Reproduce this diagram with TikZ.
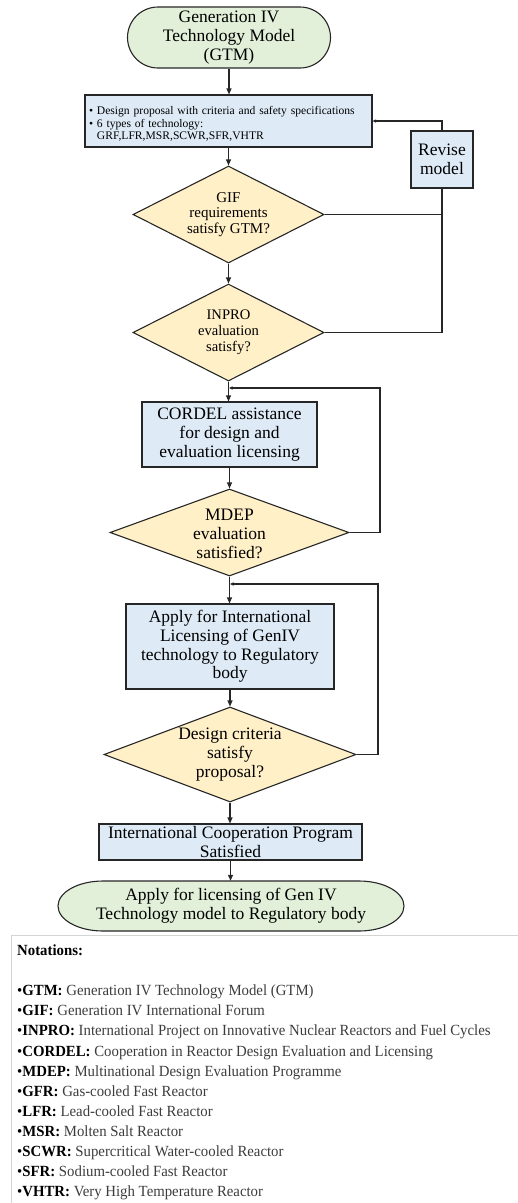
\documentclass[tikz,border=0pt]{standalone}
\usepackage{fontspec}
\setmainfont{Liberation Serif}
\newfontfamily\notefont[FakeStretch=0.955]{Liberation Serif}
\usetikzlibrary{shapes.geometric,arrows.meta}
\definecolor{gfill}{HTML}{E2F0D9}
\definecolor{bfill}{HTML}{DEEBF7}
\definecolor{yfill}{HTML}{FFF0C8}
\definecolor{lc}{HTML}{262626}
\definecolor{ngray}{HTML}{D4D4D4}
\definecolor{ntext}{HTML}{3C3C3C}
\begin{document}
\begin{tikzpicture}[x=1pt,y=-1pt,
  line/.style={draw=lc, line width=1.1pt},
  arr/.style={line, -{Triangle[length=6pt,width=5pt]}},
  sarr/.style={line, -{Triangle[length=3.5pt,width=3pt]}},
  mainfont/.style={font=\fontsize{17.5}{18.7}\selectfont},
  procbox/.style={rectangle, draw=lc, line width=1.1pt, fill=bfill, inner sep=1pt, align=center, mainfont},
  term/.style={rectangle, draw=lc, line width=1.1pt, fill=gfill, inner sep=1pt, align=center, mainfont},
  decision/.style={diamond, draw=lc, line width=1.1pt, fill=yfill, inner sep=0pt},
  dlab/.style={align=center, inner sep=0pt},
  note/.style={anchor=base west, inner sep=0pt, text=ntext, font=\notefont\fontsize{15.5}{18}\selectfont},
]
\useasboundingbox (0,0) rectangle (518,1203);

% start terminal
\node[term, minimum width=203pt, minimum height=61pt, rounded corners=30.5pt] (start) at (229,37.5) {Generation IV\\Technology Model\\(GTM)};

% design proposal box
\node[procbox, minimum width=287pt, minimum height=52pt,
  label={[inner sep=0pt, text width=279pt, align=left, yshift=-3pt, font=\fontsize{11.6}{12.3}\selectfont]center:{• Design proposal with criteria and safety specifications\\• 6 types of technology:\\\phantom{• }GRF,LFR,MSR,SCWR,SFR,VHTR}}] (b1) at (228.5,121) {};

% revise model
\node[procbox, minimum width=62pt, minimum height=57pt] (rev) at (442,159.5) {Revise\\model};

% decisions and processes
\node[decision, minimum width=191pt, minimum height=97pt,
  label={[dlab, font=\fontsize{15}{15.8}\selectfont]center:{GIF\\requirements\\satisfy GTM?}}] (d1) at (228.5,214.5) {};
\node[decision, minimum width=191pt, minimum height=97pt,
  label={[dlab, font=\fontsize{14.6}{16}\selectfont]center:{INPRO\\evaluation\\satisfy?}}] (d2) at (228.5,332.5) {};
\node[procbox, minimum width=175pt, minimum height=65pt] (cordel) at (229.5,434.5) {CORDEL assistance\\for design and\\evaluation licensing};
\node[decision, minimum width=239pt, minimum height=87pt,
  label={[dlab, font=\fontsize{17.5}{18.8}\selectfont, yshift=-1.5pt]center:{MDEP\\evaluation\\satisfied?}}] (d3) at (229.5,532.5) {};
\node[procbox, minimum width=208pt, minimum height=85pt] (apply) at (230,646.5) {Apply for International\\Licensing of GenIV\\technology to Regulatory\\body};
\node[decision, minimum width=252pt, minimum height=95pt,
  label={[dlab, font=\fontsize{17.5}{18.7}\selectfont]center:{Design criteria\\satisfy\\proposal?}}] (d4) at (230,754.5) {};
\node[procbox, minimum width=263pt, minimum height=36pt, inner sep=0pt] (icp) at (230.5,842) {International Cooperation Program\\Satisfied};

% end terminal
\path[draw=lc, line width=1.1pt, fill=gfill] (103,881) -- (359,881)
  arc[start angle=90, end angle=-90, x radius=45pt, y radius=25pt] -- (103,931)
  arc[start angle=270, end angle=90, x radius=45pt, y radius=25pt] -- cycle;
\node[inner sep=0pt, align=center, mainfont, minimum width=346pt, minimum height=50pt] (end) at (231,906) {Apply for licensing of Gen IV\\Technology model to Regulatory body};

% main flow
\draw[arr] (start.south) -- (start.south |- b1.north);
\draw[arr] (b1.south) -- (b1.south |- d1.north);
\draw[arr] (d1.south) -- (d1.south |- d2.north);
\draw[arr] (d2.south) -- (d2.south |- cordel.north);
\draw[arr] (cordel.south) -- (cordel.south |- d3.north);
\draw[arr] (d3.south) -- (d3.south |- apply.north);
\draw[arr] (apply.south) -- (apply.south |- d4.north);
\draw[arr] (d4.south) -- (d4.south |- icp.north);
\draw[arr] (icp.south) -- (icp.south |- end.north);

% feedback loops
\draw[sarr] (rev.north) |- (b1.east);
\draw[line] (d1.east) -- ([xshift=1pt]d1.east -| rev.south);
\draw[line] (d2.east) -| (rev.south);
\coordinate (j1) at (229,388);
\coordinate (r1) at (380,388);
\draw[sarr] (d3.east) -| (r1) -- (j1);
\coordinate (j2) at (230,584);
\coordinate (r2) at (378,584);
\draw[sarr] (d4.east) -| (r2) -- (j2);

% notations
\draw[ngray, line width=1pt] (11,1203) -- (11,935) -- (518,935);
\node[anchor=base west, inner sep=0pt, font=\notefont\bfseries\fontsize{15.5}{18}\selectfont] (nt) at (17,955) {Notations:};
\foreach \a/\b [count=\i] in {
  GTM/{Generation IV Technology Model (GTM)},
  GIF/{Generation IV International Forum},
  INPRO/{International Project on Innovative Nuclear Reactors and Fuel Cycles},
  CORDEL/{Cooperation in Reactor Design Evaluation and Licensing},
  MDEP/{Multinational Design Evaluation Programme},
  GFR/{Gas-cooled Fast Reactor},
  LFR/{Lead-cooled Fast Reactor},
  MSR/{Molten Salt Reactor},
  SCWR/{Supercritical Water-cooled Reactor},
  SFR/{Sodium-cooled Fast Reactor},
  VHTR/{Very High Temperature Reactor}}
{
  \node[note] (n\i) at (17,{995.7+20.1*(\i-1)}) {{\color{black}•\textbf{\a:}} \b};
}
\end{tikzpicture}
\end{document}
